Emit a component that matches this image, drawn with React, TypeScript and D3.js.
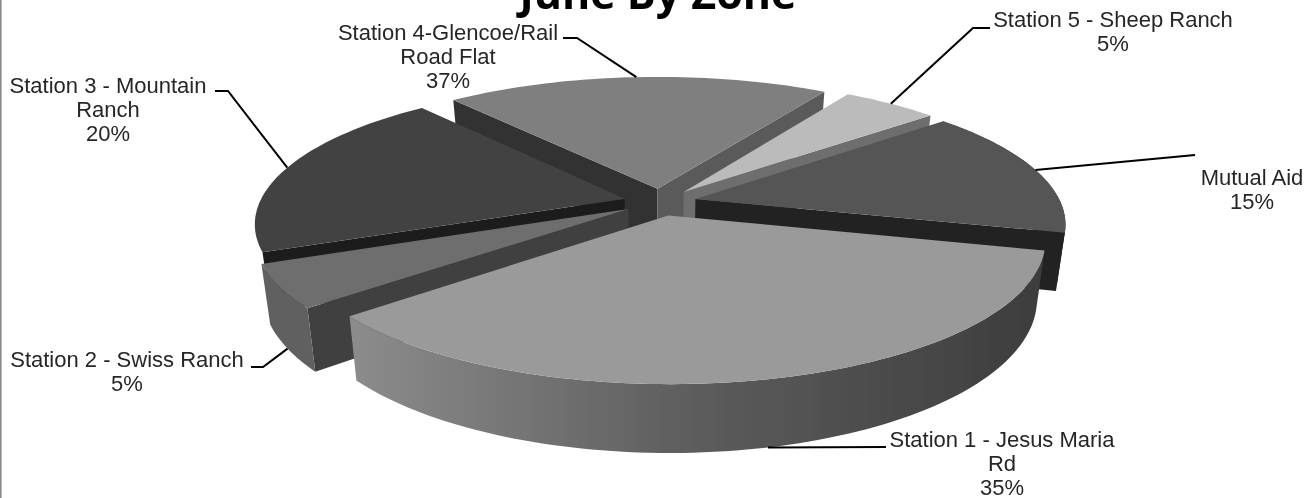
import React from "react";
import * as d3 from "d3";

const W = 1309;
const H = 498;

// Data: slice order clockwise from Station 1
const sliceNames = ["Station 1", "Station 2", "Station 3", "Station 4", "Station 5", "Mutual Aid"];
const sliceValues = [35, 5, 20, 20, 5, 15];
const labelLines = [
  ["Station 1 - Jesus Maria", "Rd", "35%"],
  ["Station 2 - Swiss Ranch", "5%"],
  ["Station 3 - Mountain", "Ranch", "20%"],
  ["Station 4-Glencoe/Rail", "Road Flat", "37%"],
  ["Station 5 - Sheep Ranch", "5%"],
  ["Mutual Aid", "15%"],
];

// Styles per slice
const topFills = ["#9a9a9a", "#6e6e6e", "#434343", "#7f7f7f", "#bbbbbb", "#555555"];
const startWallFills = ["#444444", "#3f3f3f", "#1e1e1e", "#333333", "#6e6e6e", "#5a5a5a"];
const endWallFills = ["#3f3f3f", "#3f3f3f", "#333333", "#5a5a5a", "#6e6e6e", "#222222"];
const rimFills: (string | null)[] = ["url(#rimGrad)", "#616161", null, null, null, "#222222"];
const paintOrder = [3, 4, 5, 2, 1, 0];

// Layout
const labelX = [1002, 127, 108, 448, 1113, 1252];
const labelY = [447, 367, 93, 40, 27, 185];
const lineGap = 24;
const leaderStart: [number, number][][] = [
  [[886, 447]],
  [[251, 367], [263, 367]],
  [[215, 91], [228, 91]],
  [[563, 38], [577, 38]],
  [[990, 28], [973, 28]],
  [[1195, 155]],
];
const leaderOnWall = [true, true, false, false, false, false];

const cx = 660;
const cy = 202;
const A = 365;
const B = 135;
const perspX = 0.17;
const perspY = 0.17;
const explode = 0.1;
const depth = 56;
const floorShrink = 0.978;
const startDeg = 104;

const xScale = d3.scaleLinear().domain([-1, 1]).range([cx - A, cx + A]);
const yScale = d3.scaleLinear().domain([-1, 1]).range([cy - B, cy + B]);

type P = [number, number];
const project = (x: number, y: number, floor = false): P => {
  const s = 1 / (1 - perspY * y);
  const px = xScale(x / (1 - perspX * y));
  const py = yScale(y * s);
  return floor ? [cx + (px - cx) * floorShrink, py + depth * s] : [px, py];
};

const arcs = d3
  .pie<number>()
  .sort(null)
  .value((d) => d)
  .startAngle((startDeg * Math.PI) / 180)
  .endAngle((startDeg * Math.PI) / 180 + 2 * Math.PI)(sliceValues);

const line = d3.line<P>().x((d) => d[0]).y((d) => d[1]);

const slices = arcs.map((a) => {
  const mid = (a.startAngle + a.endAngle) / 2;
  const ox = explode * Math.sin(mid);
  const oy = -explode * Math.cos(mid);
  const rimAt = (t: number) => [ox + Math.sin(t), oy - Math.cos(t)] as P;
  const n = Math.max(6, Math.round((a.endAngle - a.startAngle) * 40));
  const ts = d3.range(n + 1).map((i) => a.startAngle + ((a.endAngle - a.startAngle) * i) / n);
  const topRim = ts.map((t) => project(...rimAt(t)));
  const floorRim = ts.map((t) => project(...rimAt(t), true));
  const apexTop = project(ox, oy);
  const apexFloor = project(ox, oy, true);
  const midPt = rimAt(mid);
  return {
    top: line([apexTop, ...topRim])! + "Z",
    startWall: line([apexTop, topRim[0], floorRim[0], apexFloor])! + "Z",
    endWall: line([apexTop, topRim[n], floorRim[n], apexFloor])! + "Z",
    // A cut face is only seen when it turns towards the viewer
    startVisible: Math.sin(a.startAngle) < 0,
    endVisible: Math.sin(a.endAngle) > 0,
    rim: line([...topRim, ...floorRim.slice().reverse()])! + "Z",
    anchorTop: project(...midPt),
    anchorFloor: project(...midPt, true),
  };
});

export default function App() {
  return (
    <svg
      width={W}
      height={H}
      viewBox={`0 0 ${W} ${H}`}
      style={{ position: "absolute", left: 0, top: 0, background: "#fff" }}
    >
      <defs>
        <linearGradient id="rimGrad" gradientUnits="userSpaceOnUse" x1={350} y1={0} x2={1050} y2={0}>
          <stop offset="0" stopColor="#8c8c8c" />
          <stop offset="0.5" stopColor="#5c5c5c" />
          <stop offset="1" stopColor="#3c3c3c" />
        </linearGradient>
        <filter id="soft" x="-5%" y="-5%" width="110%" height="110%">
          <feGaussianBlur stdDeviation="0.45" />
        </filter>
      </defs>
      <rect x={0} y={0} width={1.6} height={H} fill="#8a8a8a" />
      <g filter="url(#soft)">
        {paintOrder.map((i) => (
          <g key={sliceNames[i]}>
            {slices[i].startVisible && <path d={slices[i].startWall} fill={startWallFills[i]} />}
            {slices[i].endVisible && <path d={slices[i].endWall} fill={endWallFills[i]} />}
            {rimFills[i] && <path d={slices[i].rim} fill={rimFills[i]!} />}
            <path d={slices[i].top} fill={topFills[i]} />
          </g>
        ))}
        {slices.map((s, i) => (
          <path
            key={i}
            d={line([...leaderStart[i], leaderOnWall[i] ? s.anchorFloor : s.anchorTop])!}
            fill="none"
            stroke="#000"
            strokeWidth={2}
          />
        ))}
        <text
          x={658}
          y={9}
          textAnchor="middle"
          fontFamily="'Open Sans', sans-serif"
          fontWeight={700}
          fontSize={43}
          fill="#000"
        >
          June By Zone
        </text>
        {labelLines.map((lines, i) => (
          <text
            key={i}
            textAnchor="middle"
            fontFamily="'Liberation Sans', Arial, sans-serif"
            fontSize={22}
            fill="#262626"
          >
            {lines.map((l, j) => (
              <tspan key={j} x={labelX[i]} y={labelY[i] + j * lineGap}>
                {l}
              </tspan>
            ))}
          </text>
        ))}
      </g>
    </svg>
  );
}
